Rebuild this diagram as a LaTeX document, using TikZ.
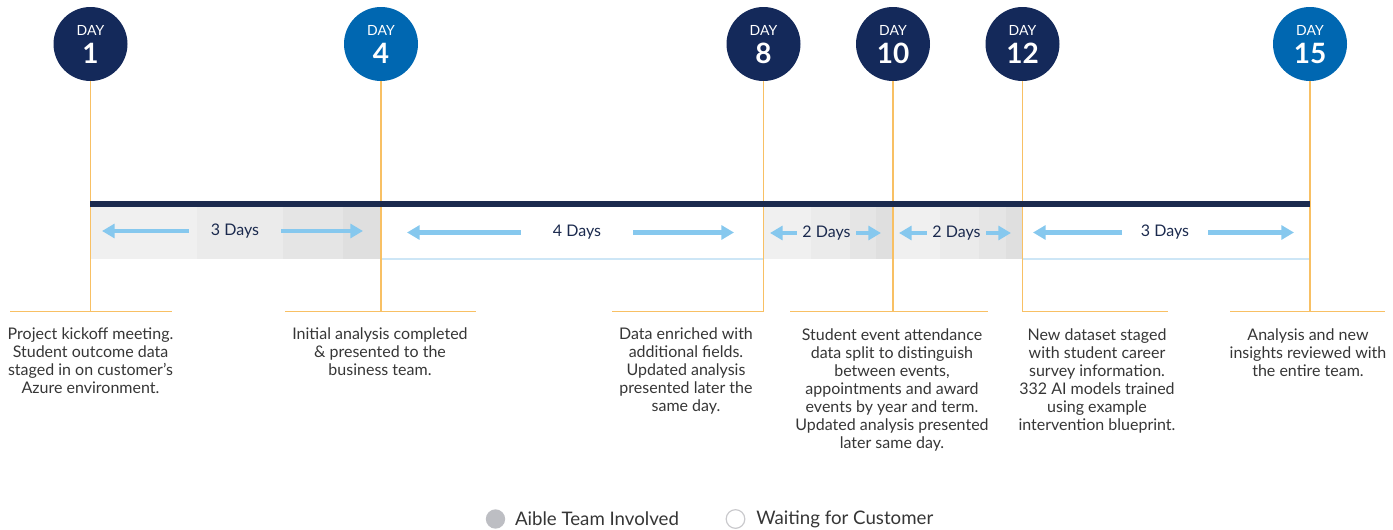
\documentclass[tikz,border=0pt]{standalone}
\usepackage{fontspec}
\setmainfont{Lato}
\usetikzlibrary{arrows.meta,positioning}
\definecolor{navy}{HTML}{14295A}
\definecolor{azure}{HTML}{0067B1}
\definecolor{barnavy}{HTML}{1B2A4E}
\definecolor{tickorange}{HTML}{F8C064}
\definecolor{arrowblue}{HTML}{86C8EE}
\definecolor{edgeblue}{HTML}{CDE6F6}
\definecolor{notegray}{HTML}{363636}
\definecolor{keygray}{HTML}{BDBEC3}
\definecolor{ringgray}{HTML}{C9C9CC}

\begin{document}
\begin{tikzpicture}[x=0.75pt,y=-0.75pt]
  \tikzstyle{day}=[circle,fill=navy,minimum size=55.5pt,inner sep=0pt]
  \tikzstyle{daycap}=[text=white,inner sep=0pt,yshift=10.2pt,font=\fontsize{10.5}{10.5}\selectfont]
  \tikzstyle{daynum}=[text=white,inner sep=0pt,yshift=-6.8pt,font=\fontsize{21}{21}\selectfont\bfseries]
  \tikzstyle{tick}=[draw=tickorange,line width=1.2pt]
  \tikzstyle{span}=[draw=arrowblue,line width=3.6pt,-{Triangle[length=9.5pt,width=10.5pt]}]
  \tikzstyle{spanlabel}=[text=barnavy,inner ysep=0pt,font=\fontsize{12}{12}\selectfont]
  \tikzstyle{note}=[anchor=north,align=center,inner sep=0pt,text=notegray,
                    font=\fontsize{12}{13.5}\selectfont]
  \tikzstyle{keytext}=[text=notegray,inner sep=0pt,font=\fontsize{14}{14}\selectfont]

  \useasboundingbox (0,0) rectangle (1393,529);

  % shaded spans (team involved)
  \foreach \a/\b in {91/380, 763/893, 893/1022} {
    \fill[black!6]  (\a,207) rectangle ({\a+0.366*(\b-\a)},259);
    \fill[black!8]  ({\a+0.366*(\b-\a)},207) rectangle ({\a+0.666*(\b-\a)},259);
    \fill[black!10] ({\a+0.666*(\b-\a)},207) rectangle ({\a+0.873*(\b-\a)},259);
    \fill[black!12.5] ({\a+0.873*(\b-\a)},207) rectangle (\b,259);
  }
  \draw[edgeblue,line width=1.1pt] (380,259) -- (763,259);
  \draw[edgeblue,line width=1.1pt] (1022,259) -- (1310,259) -- (1310,207);

  % day markers
  \node[day] (d1)  at (90.5,44)  {};
  \node[day,fill=azure] (d4) at (381,44) {};
  \node[day] (d8)  at (763.5,44) {};
  \node[day] (d10) at (893,44)  {};
  \node[day] (d12) at (1022.5,44) {};
  \node[day,fill=azure] (d15) at (1310,44) {};
  \foreach \d in {1,4,8,10,12,15} {
    \node[daycap] at (d\d) {DAY};
    \node[daynum] at (d\d) {\d};
  }

  % underlines below the timeline
  \coordinate (u1l) at (10,311.5);    \coordinate (u1r) at (172,311.5);
  \coordinate (u4l) at (285,311.5);   \coordinate (u4r) at (476,311.5);
  \coordinate (u8l) at (612,311.5);   \coordinate (u8r) at (763.5,311.5);
  \coordinate (u10l) at (790,311.5);  \coordinate (u10r) at (988,311.5);
  \coordinate (u12l) at (1022.5,311.5); \coordinate (u12r) at (1168,311.5);
  \coordinate (u15l) at (1230,311.5); \coordinate (u15r) at (1385,311.5);
  \foreach \d in {1,4,8,10,12,15} {
    \draw[tick] (d\d.south) -- (d\d |- u\d l);
    \draw[tick] (u\d l) -- (u\d r);
  }

  % timeline bar
  \fill[barnavy] (90,201) rectangle (1310,207);

  % span labels and arrows
  \node[spanlabel,inner xsep=16.5pt] (s1) at (235,231) {3 Days};
  \coordinate (s1l) at (102,231); \coordinate (s1r) at (363,231);
  \node[spanlabel,inner xsep=24pt] (s2) at (577,232.5) {4 Days};
  \coordinate (s2l) at (407,232.5); \coordinate (s2r) at (734,232.5);
  \node[spanlabel,inner xsep=4pt] (s3) at (826.5,233) {2 Days};
  \coordinate (s3l) at (770,233); \coordinate (s3r) at (881,233);
  \node[spanlabel,inner xsep=4pt] (s4) at (956.5,233) {2 Days};
  \coordinate (s4l) at (899,233); \coordinate (s4r) at (1011,233);
  \node[spanlabel,inner xsep=14pt] (s5) at (1165,232.5) {3 Days};
  \coordinate (s5l) at (1033,232.5); \coordinate (s5r) at (1294,232.5);
  \foreach \s in {1,...,5} {
    \draw[span] (s\s.west) -- (s\s l);
    \draw[span] (s\s.east) -- (s\s r);
  }

  % notes
  \node[note] (n1) at (90.5,327.5) {Project kickoff meeting.\\Student outcome data\\staged in on customer’s\\Azure environment.};
  \node[note] (n4) at (380,327.5) {Initial analysis completed\\\& presented to the\\business team.};
  \node[note] (n8) at (686,327.5) {Data enriched with\\additional fields.\\Updated analysis\\presented later the\\same day.};
  \node[note] (n10) at (892,328.5) {Student event attendance\\data split to distinguish\\between events,\\appointments and award\\events by year and term.\\Updated analysis presented\\later same day.};
  \node[note] (n12) at (1097,328.5) {New dataset staged\\with student career\\survey information.\\332 AI models trained\\using example\\intervention blueprint.};
  \node[note] (n15) at (1308,328.5) {Analysis and new\\insights reviewed with\\the entire team.};

  % legend
  \node[circle,fill=keygray,minimum size=14.5pt,inner sep=0pt] (k1) at (495.5,519) {};
  \node[keytext,anchor=west,right=7pt of k1] (k1t) {Aible Team Involved};
  \node[circle,draw=ringgray,line width=0.9pt,minimum size=14pt,inner sep=0pt] (k2) at (735.5,519) {};
  \node[keytext,anchor=west,right=8pt of k2] (k2t) {Waiting for Customer};
\end{tikzpicture}
\end{document}
